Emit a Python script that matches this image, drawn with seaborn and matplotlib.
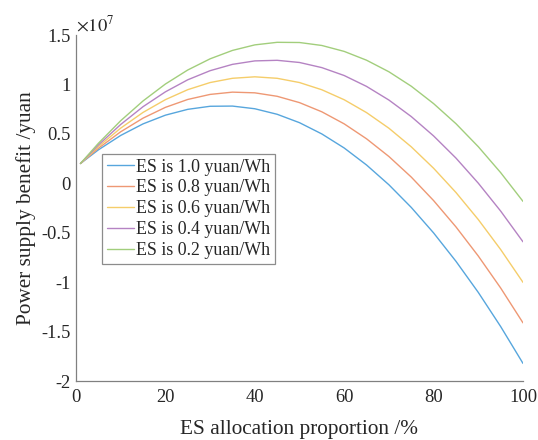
import numpy as np
import pandas as pd
import matplotlib
matplotlib.use("Agg")
import matplotlib.pyplot as plt
from matplotlib.ticker import FuncFormatter
import seaborn as sns

# ---- data (benefit in units of 1e7 yuan) ----
proportion = [1, 5, 10, 15, 20, 25, 30, 35, 40, 45, 50, 55, 60, 65, 70, 75, 80, 85, 90, 95, 100]
es_1_0 = [0.200, 0.338, 0.484, 0.601, 0.689, 0.748, 0.779, 0.781, 0.754, 0.698, 0.613, 0.499,
          0.357, 0.185, -0.015, -0.244, -0.502, -0.789, -1.104, -1.449, -1.822]
es_0_8 = [0.200, 0.354, 0.521, 0.659, 0.768, 0.848, 0.899, 0.922, 0.915, 0.880, 0.816, 0.723,
          0.601, 0.450, 0.271, 0.063, -0.175, -0.441, -0.736, -1.059, -1.412]
es_0_6 = [0.200, 0.371, 0.558, 0.717, 0.846, 0.947, 1.019, 1.062, 1.077, 1.062, 1.019, 0.946,
          0.845, 0.715, 0.557, 0.369, 0.152, -0.093, -0.367, -0.670, -1.002]
es_0_4 = [0.200, 0.387, 0.595, 0.775, 0.925, 1.047, 1.139, 1.203, 1.238, 1.244, 1.222, 1.170,
          1.090, 0.980, 0.842, 0.675, 0.479, 0.255, 0.001, -0.281, -0.592]
es_0_2 = [0.200, 0.404, 0.633, 0.833, 1.004, 1.146, 1.259, 1.344, 1.400, 1.426, 1.424, 1.394,
          1.334, 1.245, 1.128, 0.982, 0.806, 0.603, 0.370, 0.108, -0.183]
series_labels = ["ES is 1.0 yuan/Wh", "ES is 0.8 yuan/Wh", "ES is 0.6 yuan/Wh",
                 "ES is 0.4 yuan/Wh", "ES is 0.2 yuan/Wh"]
x_ticks = [0, 20, 40, 60, 80, 100]
y_ticks = [-2, -1.5, -1, -0.5, 0, 0.5, 1, 1.5]

all_vals = [es_1_0, es_0_8, es_0_6, es_0_4, es_0_2]
df = pd.DataFrame({
    "x": np.tile(proportion, len(all_vals)),
    "y": np.concatenate(all_vals),
    "series": np.repeat(series_labels, len(proportion)),
})

colors = ["#57A6DD", "#EE9874", "#F5CD6A", "#B583C3", "#A2CE7C"]

sns.set_theme(style="white")
plt.rcParams["font.family"] = ["Liberation Serif", "DejaVu Serif"]
plt.rcParams["mathtext.fontset"] = "stix"
plt.rcParams["axes.unicode_minus"] = False

fig = plt.figure(figsize=(5.38, 4.40), dpi=100)
ax = fig.add_axes([76/538, 1 - 381/440, (523-76)/538, (381-35)/440])

sns.lineplot(data=df, x="x", y="y", hue="series", hue_order=series_labels,
             palette=colors, linewidth=1.0, ax=ax, legend=True)

ax.set_xlim(0, 100)
ax.set_ylim(-2, 1.5)
ax.set_xticks(x_ticks)
ax.set_yticks(y_ticks)
ax.yaxis.set_major_formatter(FuncFormatter(lambda v, p: f"{v:g}"))
ax.tick_params(direction="in", length=4, width=0.8, colors="#808080",
               labelcolor="#262626", labelsize=13.3)
ax.tick_params(axis="x", pad=5.5)
ax.tick_params(axis="y", pad=4)
for s in ["top", "right"]:
    ax.spines[s].set_visible(False)
for s in ["left", "bottom"]:
    ax.spines[s].set_color("#808080")
    ax.spines[s].set_linewidth(0.9)

ax.set_xlabel("ES allocation proportion /%", fontsize=15.3, color="#262626", labelpad=10)
ax.set_ylabel("Power supply benefit /yuan", fontsize=15.3, color="#262626", labelpad=4)
ax.text(0.0, 1.0, r"$\times10^{7}$", transform=ax.transAxes, ha="left", va="bottom",
        fontsize=13.3, color="#262626")

leg = ax.legend(loc="upper left", bbox_to_anchor=(0.0588, 0.656), borderaxespad=0,
                fontsize=12.9, frameon=True, fancybox=False, framealpha=1,
                edgecolor="#8c8c8c", labelspacing=0.22, handlelength=1.5,
                handletextpad=0.15, borderpad=0.25, title=None)
leg.get_frame().set_linewidth(0.9)

fig.savefig("out.png", dpi=100)
